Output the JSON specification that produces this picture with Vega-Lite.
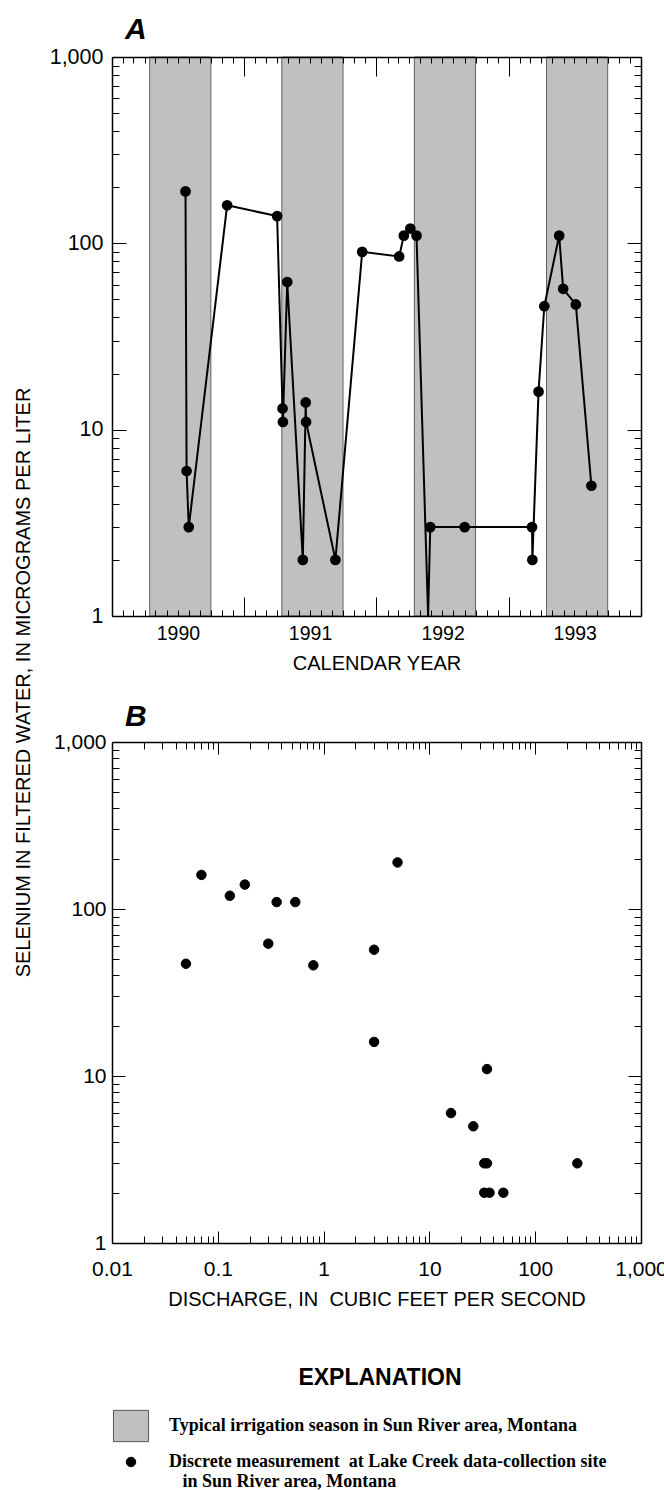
{
  "$schema": "https://vega.github.io/schema/vega-lite/v6.json",
  "padding": {"left": 13, "top": 15, "right": 5, "bottom": 5},
  "background": "white",
  "datasets": {
    "seasons": [
      {"start": "1990-04-15", "end": "1990-10-01"},
      {"start": "1991-04-15", "end": "1991-10-01"},
      {"start": "1992-04-15", "end": "1992-10-01"},
      {"start": "1993-04-15", "end": "1993-10-01"}
    ],
    "ts": [
      {"date": "1990-07-23", "selenium": 190},
      {"date": "1990-07-26", "selenium": 6},
      {"date": "1990-08-01", "selenium": 3},
      {"date": "1990-11-15", "selenium": 160},
      {"date": "1991-04-02", "selenium": 140},
      {"date": "1991-04-17", "selenium": 13},
      {"date": "1991-04-18", "selenium": 11},
      {"date": "1991-04-30", "selenium": 62},
      {"date": "1991-06-12", "selenium": 2},
      {"date": "1991-06-20", "selenium": 14},
      {"date": "1991-06-21", "selenium": 11},
      {"date": "1991-09-10", "selenium": 2},
      {"date": "1991-11-23", "selenium": 90},
      {"date": "1992-03-04", "selenium": 85},
      {"date": "1992-03-17", "selenium": 110},
      {"date": "1992-04-04", "selenium": 120},
      {"date": "1992-04-21", "selenium": 110},
      {"date": "1992-05-23", "selenium": 1, "censored": true},
      {"date": "1992-05-29", "selenium": 3},
      {"date": "1992-09-01", "selenium": 3},
      {"date": "1993-03-06", "selenium": 3},
      {"date": "1993-03-07", "selenium": 2},
      {"date": "1993-03-24", "selenium": 16},
      {"date": "1993-04-09", "selenium": 46},
      {"date": "1993-05-20", "selenium": 110},
      {"date": "1993-05-31", "selenium": 57},
      {"date": "1993-07-05", "selenium": 47},
      {"date": "1993-08-17", "selenium": 5}
    ],
    "dq": [
      {"discharge": 0.05, "selenium": 47},
      {"discharge": 0.07, "selenium": 160},
      {"discharge": 0.13, "selenium": 120},
      {"discharge": 0.18, "selenium": 140},
      {"discharge": 0.3, "selenium": 62},
      {"discharge": 0.36, "selenium": 110},
      {"discharge": 0.54, "selenium": 110},
      {"discharge": 0.8, "selenium": 46},
      {"discharge": 3, "selenium": 57},
      {"discharge": 3, "selenium": 16},
      {"discharge": 5, "selenium": 190},
      {"discharge": 16, "selenium": 6},
      {"discharge": 26, "selenium": 5},
      {"discharge": 33, "selenium": 3},
      {"discharge": 35, "selenium": 3},
      {"discharge": 35, "selenium": 11},
      {"discharge": 33, "selenium": 2},
      {"discharge": 37, "selenium": 2},
      {"discharge": 50, "selenium": 2},
      {"discharge": 250, "selenium": 3}
    ]
  },
  "bounds": "flush",
  "spacing": 126,
  "vconcat": [
    {
      "title": {"text": "A", "anchor": "start", "frame": "group", "dx": 13, "offset": -23, "baseline": "alphabetic", "fontSize": 30, "fontStyle": "italic", "fontWeight": "bold", "font": "Liberation Sans", "color": "black"},
      "width": 529,
      "height": 559,
      "layer": [
        {
          "data": {"name": "seasons"},
          "mark": {"type": "rect", "fill": "#c0c0c0", "stroke": "#606060", "strokeWidth": 1},
          "encoding": {
            "x": {
              "field": "start", "type": "temporal",
              "scale": {"type": "utc", "nice": false, "domain": [{"year": 1990, "month": 1, "date": 1, "utc": true}, {"year": 1994, "month": 1, "date": 1, "utc": true}]},
              "axis": {
                "orient": "bottom",
                "values": [{"year": 1990, "month": 7, "date": 2, "utc": true}, {"year": 1991, "month": 7, "date": 2, "utc": true}, {"year": 1992, "month": 7, "date": 2, "utc": true}, {"year": 1993, "month": 7, "date": 2, "utc": true}],
                "format": "%Y", "ticks": false, "labelPadding": 8, "labelFontSize": 19.5, "labelFlush": false, "labelOverlap": false,
                "domain": true, "zindex": 1,
                "title": "CALENDAR YEAR", "titleFontSize": 20, "titleY": 53.7, "titleBaseline": "alphabetic"
              }
            },
            "x2": {"field": "end"},
            "y": {
              "datum": 1, "type": "quantitative",
              "scale": {"type": "log", "domain": [1, 1000], "nice": false},
              "axis": {
                "orient": "left", "values": [1, 10, 100, 1000], "format": ",", "ticks": false, "labelPadding": 9, "labelFontSize": 21.5, "labelFlush": false, "labelOverlap": false,
                "domain": true, "zindex": 1,
                "title": "SELENIUM IN FILTERED WATER, IN MICROGRAMS PER LITER", "titleFontSize": 20, "titleX": -79, "titleY": 625, "titleAngle": 270, "titleAlign": "center", "titleBaseline": "bottom"
              }
            },
            "y2": {"datum": 1000}
          }
        },
        {
          "data": {"name": "ts"},
          "mark": {"type": "line", "color": "black", "strokeWidth": 2},
          "encoding": {
            "x": {
              "field": "date", "type": "temporal",
              "axis": {"orient": "bottom", "labels": false, "domain": false, "tickCount": "month", "tickSize": {"condition": {"test": "utcmonth(datum.value) === 0", "value": -19}, "value": -6}, "zindex": 1, "title": null}
            },
            "y": {
              "field": "selenium", "type": "quantitative",
              "axis": {"orient": "left", "labels": false, "domain": false, "values": [1,2,3,4,5,6,7,8,9,10,20,30,40,50,60,70,80,90,100,200,300,400,500,600,700,800,900,1000], "tickSize": {"condition": {"test": "datum.value === 1 || datum.value === 10 || datum.value === 100 || datum.value === 1000", "value": -14}, "value": -7}, "zindex": 1, "title": null}
            }
          }
        },
        {
          "data": {"name": "ts"},
          "transform": [{"filter": "datum.censored !== true"}],
          "mark": {"type": "point", "filled": true, "color": "black", "size": 115, "opacity": 1},
          "encoding": {
            "x": {
              "field": "date", "type": "temporal",
              "axis": {"orient": "top", "labels": false, "domain": true, "tickCount": "month", "tickSize": {"condition": {"test": "utcmonth(datum.value) === 0", "value": -19}, "value": -6}, "zindex": 1, "title": null}
            },
            "y": {
              "field": "selenium", "type": "quantitative",
              "axis": {"orient": "right", "labels": false, "domain": true, "values": [1,2,3,4,5,6,7,8,9,10,20,30,40,50,60,70,80,90,100,200,300,400,500,600,700,800,900,1000], "tickSize": {"condition": {"test": "datum.value === 1 || datum.value === 10 || datum.value === 100 || datum.value === 1000", "value": -14}, "value": -7}, "zindex": 1, "title": null}
            }
          }
        }
      ],
      "resolve": {"axis": {"x": "independent", "y": "independent"}}
    },
    {
      "title": {"text": "B", "anchor": "start", "frame": "group", "dx": 13, "offset": -24.5, "baseline": "alphabetic", "fontSize": 30, "fontStyle": "italic", "fontWeight": "bold", "font": "Liberation Sans", "color": "black"},
      "width": 529,
      "height": 501,
      "data": {"name": "dq"},
      "layer": [
        {
          "mark": {"type": "point", "filled": true, "size": 90, "strokeWidth": 1, "opacity": 1},
          "encoding": {
            "x": {
              "field": "discharge", "type": "quantitative",
              "scale": {"type": "log", "domain": [0.01, 1000], "nice": false},
              "axis": {
                "orient": "bottom", "values": [0.01, 0.1, 1, 10, 100, 1000], "format": ",", "ticks": false, "labelPadding": 15, "labelFontSize": 21, "labelFlush": false, "labelOverlap": false,
                "domain": true, "zindex": 1,
                "title": "DISCHARGE, IN\u00a0 CUBIC FEET PER SECOND", "titleFontSize": 20, "titleY": 62.7, "titleBaseline": "alphabetic"
              }
            },
            "y": {
              "field": "selenium", "type": "quantitative",
              "scale": {"type": "log", "domain": [1, 1000], "nice": false},
              "axis": {"orient": "left", "values": [1, 10, 100, 1000], "format": ",", "ticks": false, "labelPadding": 6, "labelFontSize": 21, "labelFlush": false, "labelOverlap": false, "domain": true, "zindex": 1, "title": null}
            },
            "fill": {
              "datum": "Discrete measurement\u00a0 at Lake Creek data-collection site|\u200d\u00a0\u00a0\u00a0in Sun River area, Montana", "type": "nominal",
              "scale": {"domain": ["Typical irrigation season in Sun River area, Montana", "Discrete measurement\u00a0 at Lake Creek data-collection site|\u200d\u00a0\u00a0\u00a0in Sun River area, Montana"], "range": ["#c0c0c0", "black"]},
              "legend": {"title": "\u200d\u00a0\u00a0\u00a0\u00a0\u00a0EXPLANATION", "labelExpr": "split(datum.label, '|')", "encode": {"labels": {"update": {"lineHeight": {"value": 20}}}}}
            },
            "stroke": {
              "datum": "Discrete measurement\u00a0 at Lake Creek data-collection site|\u200d\u00a0\u00a0\u00a0in Sun River area, Montana", "type": "nominal",
              "scale": {"domain": ["Typical irrigation season in Sun River area, Montana", "Discrete measurement\u00a0 at Lake Creek data-collection site|\u200d\u00a0\u00a0\u00a0in Sun River area, Montana"], "range": ["#555555", "black"]},
              "legend": {"title": "\u200d\u00a0\u00a0\u00a0\u00a0\u00a0EXPLANATION", "labelExpr": "split(datum.label, '|')", "encode": {"labels": {"update": {"lineHeight": {"value": 20}}}}}
            },
            "shape": {
              "datum": "Discrete measurement\u00a0 at Lake Creek data-collection site|\u200d\u00a0\u00a0\u00a0in Sun River area, Montana", "type": "nominal",
              "scale": {"domain": ["Typical irrigation season in Sun River area, Montana", "Discrete measurement\u00a0 at Lake Creek data-collection site|\u200d\u00a0\u00a0\u00a0in Sun River area, Montana"], "range": ["M-3.7,-3.3H3.7V3.3H-3.7Z", "circle"]},
              "legend": {"title": "\u200d\u00a0\u00a0\u00a0\u00a0\u00a0EXPLANATION", "labelExpr": "split(datum.label, '|')", "encode": {"labels": {"update": {"lineHeight": {"value": 20}}}}}
            }
          }
        },
        {
          "mark": {"type": "point", "opacity": 0},
          "encoding": {
            "x": {"field": "discharge", "type": "quantitative", "axis": {"orient": "bottom", "labels": false, "domain": false, "values": [0.01,0.02,0.03,0.04,0.05,0.06,0.07,0.08,0.09,0.1,0.2,0.3,0.4,0.5,0.6,0.7,0.8,0.9,1,2,3,4,5,6,7,8,9,10,20,30,40,50,60,70,80,90,100,200,300,400,500,600,700,800,900,1000], "tickSize": {"condition": {"test": "indexof([0.01,0.1,1,10,100,1000], datum.value) >= 0", "value": -12}, "value": -7}, "zindex": 1, "title": null}},
            "y": {"field": "selenium", "type": "quantitative", "axis": {"orient": "left", "labels": false, "domain": false, "values": [1,2,3,4,5,6,7,8,9,10,20,30,40,50,60,70,80,90,100,200,300,400,500,600,700,800,900,1000], "tickSize": {"condition": {"test": "datum.value === 1 || datum.value === 10 || datum.value === 100 || datum.value === 1000", "value": -13}, "value": -7}, "zindex": 1, "title": null}}
          }
        },
        {
          "mark": {"type": "point", "opacity": 0},
          "encoding": {
            "x": {"field": "discharge", "type": "quantitative", "axis": {"orient": "top", "labels": false, "domain": true, "values": [0.01,0.02,0.03,0.04,0.05,0.06,0.07,0.08,0.09,0.1,0.2,0.3,0.4,0.5,0.6,0.7,0.8,0.9,1,2,3,4,5,6,7,8,9,10,20,30,40,50,60,70,80,90,100,200,300,400,500,600,700,800,900,1000], "tickSize": {"condition": {"test": "indexof([0.01,0.1,1,10,100,1000], datum.value) >= 0", "value": -12}, "value": -7}, "zindex": 1, "title": null}},
            "y": {"field": "selenium", "type": "quantitative", "axis": {"orient": "right", "labels": false, "domain": true, "values": [1,2,3,4,5,6,7,8,9,10,20,30,40,50,60,70,80,90,100,200,300,400,500,600,700,800,900,1000], "tickSize": {"condition": {"test": "datum.value === 1 || datum.value === 10 || datum.value === 100 || datum.value === 1000", "value": -13}, "value": -7}, "zindex": 1, "title": null}}
          }
        }
      ],
      "resolve": {"axis": {"x": "independent", "y": "independent"}}
    }
  ],
  "config": {
    "view": {"stroke": null},
    "font": "Liberation Sans",
    "axis": {"labelColor": "black", "titleColor": "black", "tickColor": "black", "domainColor": "black", "titleFontWeight": "normal", "grid": false, "labelFont": "Liberation Sans", "titleFont": "Liberation Sans", "tickWidth": 1, "domainWidth": 1.5},
    "legend": {
      "orient": "none", "legendX": 10, "legendY": 1310,
      "titleFont": "Liberation Sans", "titleFontSize": 23, "titleFontWeight": "bold", "titleColor": "black", "titleAnchor": "middle", "titlePadding": 27, "titleLimit": 600,
      "labelFont": "Liberation Serif", "labelFontWeight": "bold", "labelFontSize": 18, "labelColor": "black", "labelLimit": 700, "labelOffset": 29,
      "rowPadding": 9, "symbolSize": 90, "symbolStrokeWidth": 1
    }
  }
}
